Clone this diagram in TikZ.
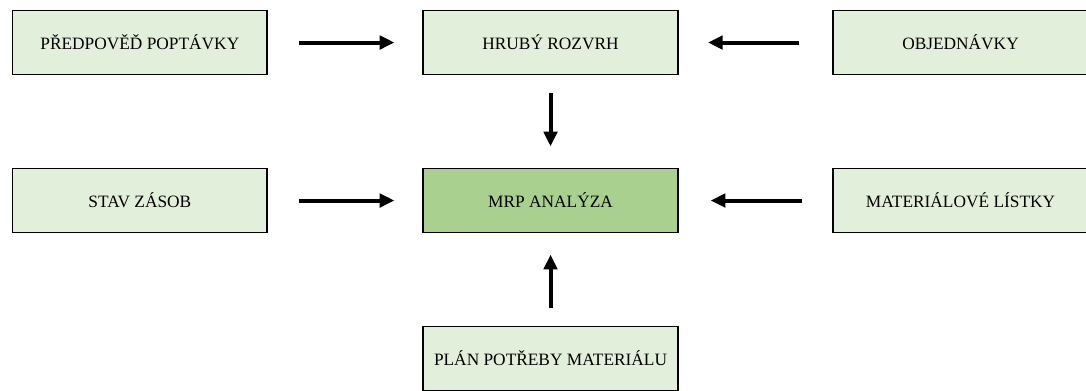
\documentclass[tikz,border=0pt]{standalone}
\usepackage{fontspec}
\setmainfont{Liberation Serif}
\usetikzlibrary{positioning,arrows.meta}
\definecolor{boxgreen}{HTML}{E2EFDA}
\definecolor{mrpgreen}{HTML}{A9D08E}

\begin{document}
\begin{tikzpicture}[node distance=308pt,on grid,
        box/.style={draw,line width=1.2pt,fill=boxgreen,minimum width=191pt,minimum height=48pt,
                    inner sep=0pt,font=\fontsize{13pt}{15pt}\selectfont},
        flow/.style={line width=3pt,-{Triangle[length=11pt,width=10pt]}}]
        \useasboundingbox (-412.9pt,-142.1pt) rectangle (401.6pt,150.4pt);
        \node[box,fill=mrpgreen] (mrp) {MRP ANALÝZA};
        \node[box] (hruby) [above=118.5pt of mrp] {HRUBÝ ROZVRH};
        \node[box] (plan) [below=118.5pt of mrp] {PLÁN POTŘEBY MATERIÁLU};
        \node[box] (zasoby) [left=of mrp] {STAV ZÁSOB};
        \node[box] (listky) [right=of mrp,xshift=-0.5pt] {MATERIÁLOVÉ LÍSTKY};
        \node[box] (predpoved) [left=of hruby] {PŘEDPOVĚĎ POPTÁVKY};
        \node[box] (objednavky) [right=of hruby,xshift=-0.5pt] {OBJEDNÁVKY};
        \draw[flow,shorten <=23pt,shorten >=21pt] (predpoved) -- (hruby);
        \draw[flow,shorten <=25pt,shorten >=22pt] (objednavky) -- (hruby);
        \draw[flow,shorten <=23pt,shorten >=21pt] (zasoby) -- (mrp);
        \draw[flow,shorten <=23pt,shorten >=24pt] (listky) -- (mrp);
        \draw[flow,shorten <=13pt,shorten >=16pt] (hruby) -- (mrp);
        \draw[flow,shorten <=13pt,shorten >=16pt] (plan) -- (mrp);
\end{tikzpicture}
\end{document}
